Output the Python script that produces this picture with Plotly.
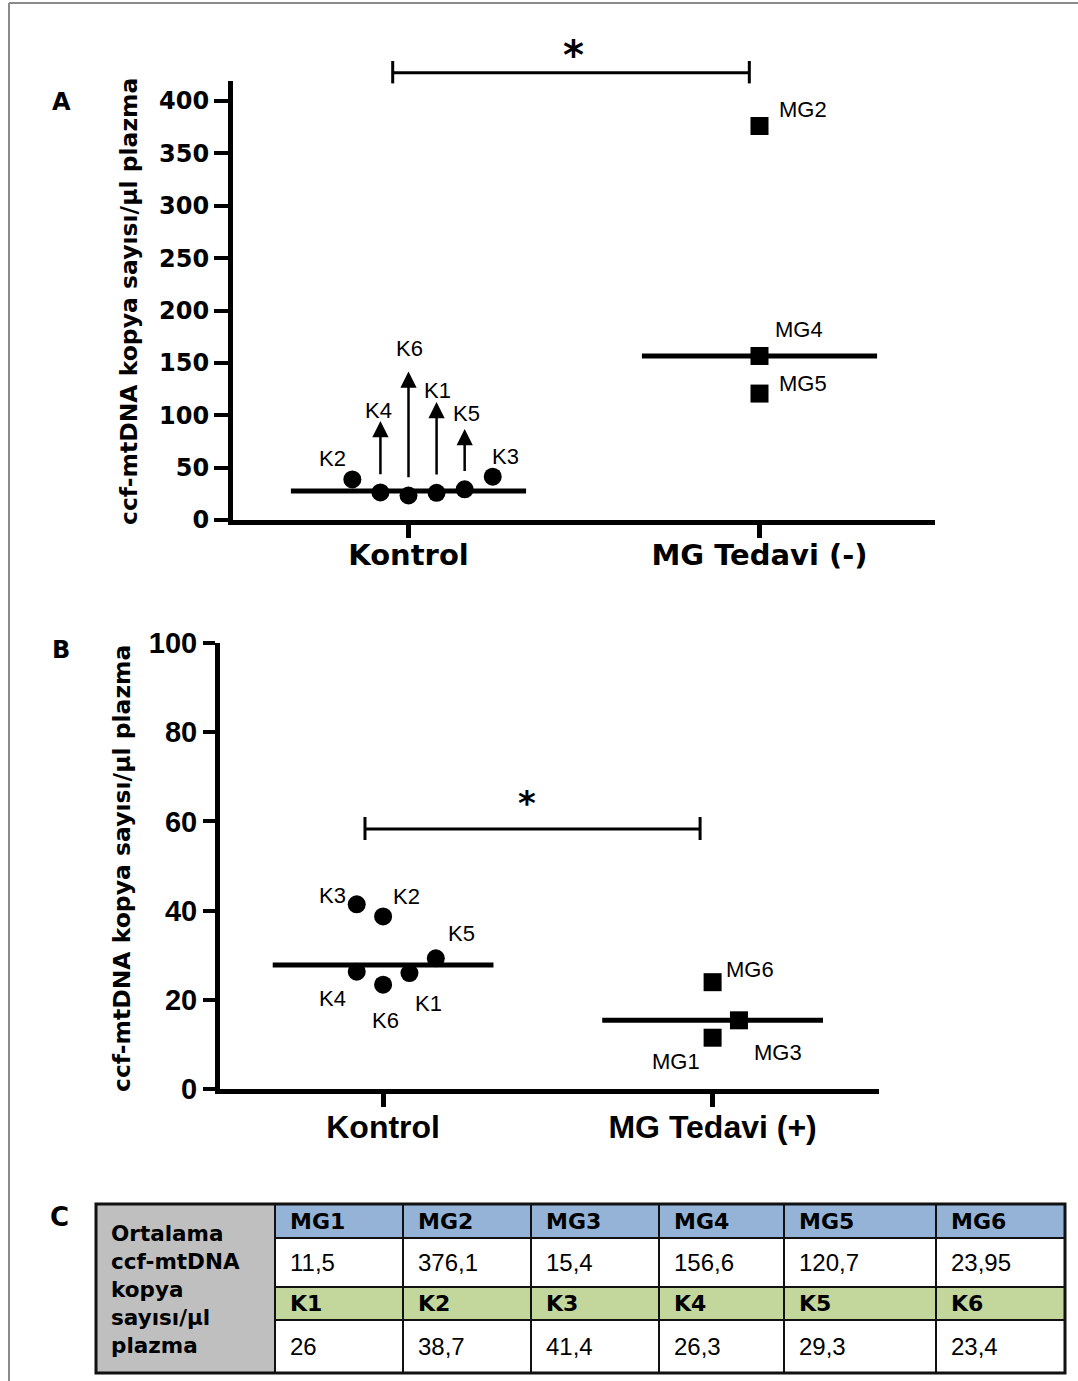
import numpy as np
import plotly.graph_objects as go

W, H = 1078, 1381

# ------------------------------------------------------------------ data
categories_A = ["Kontrol", "MG Tedavi (-)"]
categories_B = ["Kontrol", "MG Tedavi (+)"]
control_ids = ["K1", "K2", "K3", "K4", "K5", "K6"]
control_values = [26, 38.7, 41.4, 26.3, 29.3, 23.4]
mg_ids = ["MG1", "MG2", "MG3", "MG4", "MG5", "MG6"]
mg_values = [11.5, 376.1, 15.4, 156.6, 120.7, 23.95]
mg_untreated_ids = ["MG2", "MG4", "MG5"]      # panel A
mg_treated_ids = ["MG1", "MG3", "MG6"]        # panel B
arrow_ids_A = ["K4", "K6", "K1", "K5"]
arrow_tops_A = [94.5, 141.8, 112.6, 86.9]     # arrow tip values
yticks_A = [0, 50, 100, 150, 200, 250, 300, 350, 400]
yticks_B = [0, 20, 40, 60, 80, 100]
y_title = "ccf-mtDNA kopya sayısı/μl plazma"
table_row_title = ["Ortalama", "ccf-mtDNA", "kopya", "sayısı/μl", "plazma"]

ctrl = dict(zip(control_ids, control_values))
mg = dict(zip(mg_ids, mg_values))

# ------------------------------------------------------------------ layout constants (pixels)
def px_x(p):
    return p / W


def px_y(p):
    return 1 - p / H


BLACK = "#000000"
DV = "DejaVu Sans"
LS = "Liberation Sans"

# horizontal jitter of points (category units)
JIT_A = {"K2": -0.16, "K4": -0.08, "K6": 0.0, "K1": 0.08, "K5": 0.16, "K3": 0.24,
         "MG2": 0.0, "MG4": 0.0, "MG5": 0.0}
JIT_B = {"K3": -0.08, "K4": -0.08, "K2": 0.0, "K6": 0.0, "K1": 0.08, "K5": 0.16,
         "MG1": 0.0, "MG6": 0.0, "MG3": 0.08}
# label offsets (xshift, yshift) in px
LAB_A = {"K2": (-20, 21), "K4": (-2, 82), "K6": (1, 147), "K1": (1, 102), "K5": (2, 76),
         "K3": (13, 20), "MG2": (43, 17), "MG4": (39, 26), "MG5": (43, 10)}
LAB_B = {"K3": (-24, 9), "K2": (23, 20), "K5": (26, 25), "K4": (-24, -27), "K6": (2, -36),
         "K1": (19, -30), "MG6": (37, 13), "MG1": (-37, -24), "MG3": (39, -32)}
HALF_MEDIAN = 0.335
ARROW_GAP = 16

fig = go.Figure()


def add_panel(xa, ya, xref, yref, groups, jit, lab, lab_font):
    for gi, (ids, vals, symbol) in enumerate(groups):
        xs = [gi + jit[i] for i in ids]
        fig.add_trace(go.Scatter(
            x=xs, y=vals, mode="markers", xaxis=xa, yaxis=ya,
            marker=dict(symbol=symbol, size=18, color=BLACK, line=dict(width=0)),
            showlegend=False, hoverinfo="skip"))
        med = float(np.median(vals))
        fig.add_trace(go.Scatter(
            x=[gi - HALF_MEDIAN, gi + HALF_MEDIAN], y=[med, med], mode="lines",
            xaxis=xa, yaxis=ya, line=dict(color=BLACK, width=5),
            showlegend=False, hoverinfo="skip"))
        for i, xv, yv in zip(ids, xs, vals):
            dx, dy = lab[i]
            fig.add_annotation(x=xv, y=yv, xref=xref, yref=yref, text=i, showarrow=False,
                               xshift=dx, yshift=dy, xanchor="center", yanchor="middle",
                               font=dict(family=lab_font, size=22, color=BLACK))


# panel A
groupsA = [
    (control_ids, [ctrl[i] for i in control_ids], "circle"),
    (mg_untreated_ids, [mg[i] for i in mg_untreated_ids], "square"),
]
add_panel("x", "y", "x", "y", groupsA, JIT_A, LAB_A, LS)
for i, top in zip(arrow_ids_A, arrow_tops_A):
    xv = JIT_A[i]
    fig.add_annotation(x=xv, y=top, ax=xv, ay=ctrl[i] + ARROW_GAP, xref="x", yref="y",
                       axref="x", ayref="y", text="", showarrow=True, arrowhead=2,
                       arrowsize=1.3, arrowwidth=2.5, arrowcolor=BLACK, standoff=0)

# panel B
groupsB = [
    (control_ids, [ctrl[i] for i in control_ids], "circle"),
    (mg_treated_ids, [mg[i] for i in mg_treated_ids], "square"),
]
add_panel("x2", "y2", "x2", "y2", groupsB, JIT_B, LAB_B, LS)

# ------------------------------------------------------------------ axes
common_axis = dict(showgrid=False, zeroline=False, showline=True, linecolor=BLACK,
                   ticks="outside", tickcolor=BLACK, fixedrange=True, automargin=False)

fig.update_layout(
    xaxis=dict(domain=[px_x(233), px_x(935)], range=[-0.5, 1.5], anchor="y",
               tickvals=[0, 1], ticktext=categories_A, linewidth=5, ticklen=13, tickwidth=5,
               ticklabelstandoff=-8,
               tickfont=dict(family=DV, size=29, color=BLACK, weight="bold"), **common_axis),
    yaxis=dict(domain=[px_y(520), px_y(80.6)], range=[0, 419.5], anchor="x",
               tickvals=yticks_A, linewidth=5, ticklen=14, tickwidth=4,
               tickfont=dict(family=DV, size=24, color=BLACK, weight="bold"), **common_axis),
    xaxis2=dict(domain=[px_x(220), px_x(879)], range=[-0.495, 1.505], anchor="y2",
                tickvals=[0, 1], ticktext=categories_B, linewidth=5, ticklen=13, tickwidth=5,
                ticklabelstandoff=-7,
                tickfont=dict(family=LS, size=32, color=BLACK, weight="bold"), **common_axis),
    yaxis2=dict(domain=[px_y(1089), px_y(643)], range=[0, 100], anchor="x2",
                tickvals=yticks_B, linewidth=5, ticklen=12, tickwidth=4,
                tickfont=dict(family=LS, size=29, color=BLACK, weight="bold"), **common_axis),
)

# axis titles
for cx, cy in [(129, 302), (122, 869)]:
    fig.add_annotation(x=px_x(cx), y=px_y(cy), xref="paper", yref="paper", text=y_title,
                       textangle=-90, showarrow=False, xanchor="center", yanchor="middle",
                       font=dict(family=DV, size=23.5, color=BLACK, weight="bold"))

# panel letters
for letter, cx, cy, size in [("A", 61.5, 102.5, 24), ("B", 60.6, 650, 24), ("C", 59, 1217, 26)]:
    fig.add_annotation(x=px_x(cx), y=px_y(cy), xref="paper", yref="paper", text=letter,
                       showarrow=False, xanchor="center", yanchor="middle",
                       font=dict(family=DV, size=size, color=BLACK, weight="bold"))

# significance brackets
shapes = []
for xr, x0, x1, yl, c0, c1, sx, sy, ssz in [
        ("x", -0.045, 0.971, 72.7, 61, 83.4, 0.469, 55, 40),
        ("x2", -0.055, 0.962, 829, 817, 840, 0.437, 803, 34)]:
    shapes.append(dict(type="line", xref=xr, yref="paper", x0=x0, x1=x1,
                       y0=px_y(yl), y1=px_y(yl), line=dict(color=BLACK, width=3)))
    for xe in (x0, x1):
        shapes.append(dict(type="line", xref=xr, yref="paper", x0=xe, x1=xe,
                           y0=px_y(c0), y1=px_y(c1), line=dict(color=BLACK, width=3)))
    fig.add_annotation(x=sx, y=px_y(sy), xref=xr, yref="paper", text="*", showarrow=False,
                       xanchor="center", yanchor="middle",
                       font=dict(family=DV, size=ssz, color=BLACK, weight="bold"))

# ------------------------------------------------------------------ table C
TX = [96, 275, 403, 531, 659, 784, 936, 1065]
TY = [1204, 1238, 1287, 1320, 1373]
row_fill = ["#95B3D7", "#FFFFFF", "#C3D69B", "#FFFFFF"]
shapes.append(dict(type="rect", xref="paper", yref="paper", x0=px_x(TX[0]), x1=px_x(TX[1]),
                   y0=px_y(TY[-1]), y1=px_y(TY[0]), fillcolor="#BFBFBF", line=dict(width=0),
                   layer="below"))
for r in range(4):
    shapes.append(dict(type="rect", xref="paper", yref="paper", x0=px_x(TX[1]), x1=px_x(TX[-1]),
                       y0=px_y(TY[r + 1]), y1=px_y(TY[r]), fillcolor=row_fill[r],
                       line=dict(width=0), layer="below"))
for xv in TX[1:-1]:
    shapes.append(dict(type="line", xref="paper", yref="paper", x0=px_x(xv), x1=px_x(xv),
                       y0=px_y(TY[0]), y1=px_y(TY[-1]), line=dict(color="#111111", width=2)))
for yv in TY[1:-1]:
    shapes.append(dict(type="line", xref="paper", yref="paper", x0=px_x(TX[1]), x1=px_x(TX[-1]),
                       y0=px_y(yv), y1=px_y(yv), line=dict(color="#111111", width=2)))
shapes.append(dict(type="rect", xref="paper", yref="paper", x0=px_x(TX[0]), x1=px_x(TX[-1]),
                   y0=px_y(TY[-1]), y1=px_y(TY[0]), line=dict(color="#111111", width=3)))

def fmt(v):
    return f"{v:g}".replace(".", ",")

table_rows = [
    (mg_ids, True),
    ([fmt(v) for v in mg_values], False),
    (control_ids, True),
    ([fmt(v) for v in control_values], False),
]
for r, (texts, bold) in enumerate(table_rows):
    cy = (TY[r] + TY[r + 1]) / 2
    for c, t in enumerate(texts):
        if bold:
            font = dict(family=DV, size=22, color=BLACK, weight="bold")
        else:
            font = dict(family=LS, size=24, color=BLACK)
        fig.add_annotation(x=px_x(TX[c + 1] + 13), y=px_y(cy), xref="paper", yref="paper",
                           text=t, showarrow=False, xanchor="left", yanchor="middle", font=font)

fig.add_annotation(x=px_x(109), y=px_y(1289), xref="paper", yref="paper",
                   text="<br>".join(table_row_title), showarrow=False, align="left",
                   xanchor="left", yanchor="middle",
                   font=dict(family=DV, size=21.5, color=BLACK, weight="bold"))

# outer frame of the figure
shapes.append(dict(type="line", xref="paper", yref="paper", x0=px_x(9), x1=px_x(9),
                   y0=px_y(3), y1=0, line=dict(color="#8a8a8a", width=2)))
shapes.append(dict(type="line", xref="paper", yref="paper", x0=px_x(9), x1=1,
                   y0=px_y(3), y1=px_y(3), line=dict(color="#8a8a8a", width=2)))

fig.update_layout(
    shapes=shapes,
    width=W, height=H, autosize=False,
    margin=dict(l=0, r=0, t=0, b=0, pad=0, autoexpand=False),
    paper_bgcolor="white", plot_bgcolor="rgba(0,0,0,0)",
    showlegend=False,
)

fig.write_html(
    "out.html",
    config={"displayModeBar": False, "responsive": False},
    post_script="document.body.style.margin='0';document.body.style.padding='0';"
                "document.documentElement.style.overflow='hidden';",
)
